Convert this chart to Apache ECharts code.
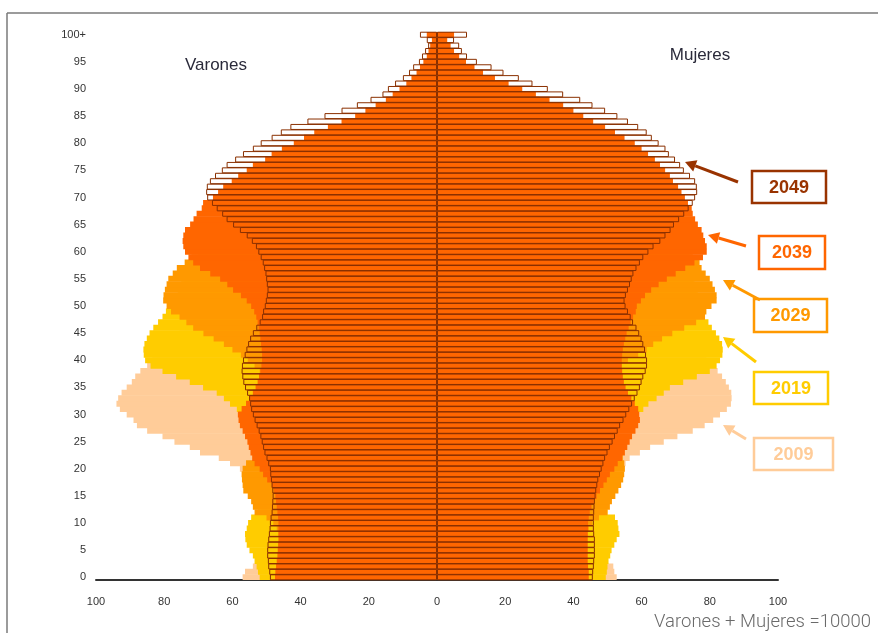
<!DOCTYPE html>
<html>
<head>
<meta charset="utf-8">
<script src="https://cdn.jsdelivr.net/npm/echarts@6/dist/echarts.min.js"></script>
<style>
html, body { margin: 0; padding: 0; background: #fff; }
#chart { width: 878px; height: 633px; }
</style>
</head>
<body>
<div id="chart"></div>
<script>
// edades 0..100+
var ages = [];
for (var a = 0; a <= 100; a++) ages.push(a === 100 ? '100+' : String(a));

var years = ['2009', '2019', '2029', '2039', '2049'];
var colors = ['#FFCC99', '#FFCC00', '#FF9900', '#FF6600', '#993300'];

// Varones (por cada 10000 habitantes)
var m2009 = [57,56.3,54,52.3,51,50.5,50,49,48,47.5,
  47.2,47,47,47.5,48,49,50.5,52.5,55,56.9,
  57.8,60.7,64,69.5,72.5,77,80.5,85,88,89,
  91,93,94,93.5,92.5,91,89.5,88.5,87,85,
  83.5,82,80,78.5,77,75.5,74,73,71.5,70,
  68.5,67.5,67,66.5,66,65,64,63,62,61,
  59.5,58,57,56,55,53.5,52,50.5,49,48,
  46.5,45,44,43,41.5,40,38,36,33.5,31,
  28.5,26,23,20.5,18,15.5,13,11,9,7,
  5.5,4.3,3.3,2.5,1.8,1.3,0.9,0.6,0.4,0.3,
  0.8];
var m2019 = [52,52.5,52.9,53.5,54,55,55.8,56.2,56.3,55.8,
  55.4,54.5,52.5,51.5,51,50.5,50,49.5,49.5,49.5,
  50,50,50.5,51,51.5,52,52.5,53,54,55.5,
  56.9,58.7,60.7,62.5,64.6,68.6,72.5,76.5,80.5,84,
  85.6,86,86.1,85.8,85.1,84.3,83.2,81.8,80.5,79.5,
  77,76.5,76,75.5,75,74,72.5,70.5,68.5,66.5,
  64,62,60,58.5,57,55,53.5,52,50.5,49,
  47.5,46,44.5,43,41.5,40,39,38,36,33.5,
  31,28,25,22,19.5,17,15,13,11,9,
  7.5,6,4.8,3.8,3,2.3,1.7,1.2,0.8,0.6,
  1];
var m2029 = [46.5,46.5,46.4,46.3,46.2,46.2,46.2,46.3,46.5,47,
  48,50,53.5,54,54.5,55.5,56.8,57,57.2,57.3,
  57,56,53.8,53,52.8,52.5,52.3,52,51.8,51.5,
  51.2,51,50.5,50.3,50.2,50.3,50.6,51,52,53.5,
  55.5,57.5,60,62.5,65.5,68.5,71.5,73.5,75.5,78,
  79.3,80.3,80.2,79.8,79.3,78.8,77.5,76.3,74,72,
  70,69,68,67,65.5,64,62.5,61,59,57.5,
  56,54.5,53,51.5,50,48.5,47,45,43,41,
  37,34,31,28,25,21.5,18.5,15.5,13,10.5,
  8.5,6.8,5.3,4.2,3.2,2.4,1.8,1.3,1,0.7,
  1.5];
var m2039 = [47.5,47.4,47.2,47,46.8,46.7,46.6,46.5,46.5,46.5,
  46.5,46.6,46.8,47,47.2,47.4,47.8,48.5,49.8,51,
  52,53.5,54.2,54.7,55.2,55.6,56.3,57,57.8,58.2,
  58.4,57.3,56,55,54,53.2,52.6,52.2,51.8,51.5,
  51.3,51.3,51.4,51.6,51.8,52,52.3,52.6,53,53.6,
  54.5,55.8,57.5,59.8,61.5,63.6,66.5,69.5,71.5,72.9,
  73.9,74.4,74.6,74.4,73.9,72.4,71.4,70.5,69,68.6,
  65.7,64.2,62.7,60.2,58.3,55.8,54,50.4,48.5,45.5,
  42,39,36,32,28,24,21,18,15,13,
  11,9,7.5,6,5,4,3,2.5,2,1.5,
  3];
var m2049 = [49,49.2,49.5,49.6,49.8,49.8,49.7,49.5,49.3,49.1,
  49,48.8,48.5,48.4,48.3,48.2,48.3,48.5,48.7,48.9,
  49,49.5,50,50.6,51,51.4,51.8,52.3,52.9,53.5,
  54,54.5,54.8,55.1,55.7,56.3,56.8,57.1,57.3,57.2,
  56.9,56.4,55.9,55.4,54.8,54,53,52,51.3,51,
  50.5,50.2,49.9,49.7,49.9,50.1,50.3,50.7,51.1,51.7,
  52.4,53.1,54.3,55.8,57.8,59.8,61.7,63,64.6,66,
  67.4,67.7,67.5,66.6,65.1,63.1,61.7,59.2,56.9,54,
  51.7,48.5,45.8,43,38,33,28,23.5,19.5,16,
  14.4,12.3,10,8.2,7,5.3,4.4,3.5,2.6,3,
  5];

// Mujeres
var f2009 = [52.7,52,51.7,49.5,48.5,47.5,47,46.3,45.5,45,
  44.8,44.7,44.8,45.2,46,47,48,49.5,51.5,53.5,
  54.8,55.3,56.5,59.5,62.5,66.5,70.5,75,78.5,81,
  83,85,86.2,86.4,86.3,85.6,84.7,83.6,82.3,80.5,
  79,78,76.5,75,74,72.5,71,70,69,67.5,
  66.5,65.5,65,64.5,64,63.5,63,62.5,62,61,
  60,59,58,57,56,55,54,53,52,51.5,
  51,50.5,50,49.5,49,48,46.5,45,43,41,
  38.5,36,33,30,27,24,21,18,15,12.5,
  10.5,8.5,6.8,5.3,4,3,2.2,1.6,1.1,0.8,
  2];
var f2019 = [49.5,49.8,50,50.3,50.8,51.2,52,52.7,53.5,53.2,
  53,52.2,50,49,48,47.5,47,46.8,46.8,47,
  47.5,48,48.5,49,49.5,50,51,52,53.5,55.5,
  57.5,60.5,62,64.4,66.5,68.3,72.2,76.2,80,82,
  83,83.7,83.8,83.6,82.8,81.8,80.6,79.6,78.6,78,
  77.5,77,76.5,76,75.5,75,74,73,72,71,
  69.5,68,67,65.5,64,62.5,61,59.5,58.5,57.5,
  56.5,56,55,54,53,52.5,51.5,50,48,46,
  44,41,38,35,32,29,26,23,20,17,
  14.5,12,9.5,7.5,6,4.6,3.5,2.6,2,1.5,
  3];
var f2029 = [44,44,43.8,43.8,43.8,43.8,43.9,44,44.2,44.5,
  45.5,47.5,50,50.7,51.3,52.3,53.2,54,54.6,54.9,
  55.1,54.9,54.5,54,53.5,53,52.5,52,51.5,51.2,
  51,50.8,50.8,51,51.5,52,52.5,53,53.5,54,
  56,59,61.5,63.4,66,69,72.5,76,78.6,79,
  80.5,82,82,81.5,80.8,80,78.8,77.6,77,75,
  74,73.5,73,72.5,72,71,70,69,68,67,
  66,65,64,63,62,60.5,59.5,58.5,57,55.5,
  54,52,49.5,46.5,43,40,37,34,30,26,
  22,18.5,15,12,9.5,7.5,5.5,4.2,3.2,2.4,
  4];
var f2039 = [44.5,44.5,44.3,44.2,44.2,44.2,44.2,44.2,44.2,44.3,
  44.3,44.5,44.8,45.3,46,46.8,47.8,48.8,49.8,50.7,
  52,53,54.3,55.1,55.8,56.5,57.2,58.2,59,59.5,
  59.3,59,58,57,56,55.3,54.8,54.5,54.3,54.2,
  54.2,54.3,54.5,54.8,55.2,55.6,56.2,56.8,57.5,58.3,
  58.6,59.8,61,62.8,65,67.4,70,72.8,75.5,78,
  79.1,79.1,78.6,78.1,77.6,76.5,75.7,75,74.7,73.6,
  72.7,71.7,70.7,69.2,68.3,66.9,65.4,63.9,61.9,60,
  58,55,52.2,49.3,45.8,42.9,40,37,33,29,
  25,21,17,13.5,11,8.5,6.5,5,4,3,
  5];
var f2049 = [45.7,45.8,46,46.1,46.3,46.3,46.3,46.3,46.1,46,
  46,46,46.1,46.2,46.3,46.5,46.7,47,47.3,47.8,
  48.3,48.8,49.3,50,50.7,51.5,52.2,53,53.7,54.7,
  55.5,56.4,57.2,58,58.8,59.5,60,60.5,61.2,61.6,
  61.6,61.3,61,60.5,60,59.3,58.5,57.5,56.8,56,
  55.3,55,55.4,56,56.6,57.1,57.6,58.5,59.5,60.5,
  62,63.5,65.5,67,68.5,69.5,71,72.5,73.8,75,
  75.7,76.3,76.2,75.7,74.2,72.4,71.3,69.8,68,67,
  65,63,61.5,59,56,52.9,49.3,45.6,42,37,
  32.5,28,24,19.5,16,11.7,8.8,7.3,6.5,5,
  8.8];

var men = [m2009, m2019, m2029, m2039, m2049];
var women = [f2009, f2019, f2029, f2039, f2049];

var dom = document.getElementById('chart');
var myChart = echarts.init(dom);

var series = [];
years.forEach(function (y, i) {
  var last = (i === years.length - 1);
  var style = last
    ? { color: 'rgba(255,255,255,0)', borderColor: '#8a3000', borderWidth: 1 }
    : { color: colors[i] };
  series.push({
    name: y + ' Varones', type: 'bar', z: 2 + i,
    barGap: '-100%', barWidth: 6,
    data: men[i].map(function (v) { return -v; }),
    itemStyle: style
  });
  var s = {
    name: y + ' Mujeres', type: 'bar', z: 2 + i,
    barGap: '-100%', barWidth: 6,
    data: women[i],
    itemStyle: style
  };
  if (last) {
    s.markLine = {
      silent: true, symbol: 'none',
      label: { show: false },
      lineStyle: { color: '#4a1800', width: 2, type: 'solid' },
      data: [{ xAxis: 0 }]
    };
  }
  series.push(s);
});

function arrow(x1, y1, x2, y2, color) {
  var dx = x2 - x1, dy = y2 - y1;
  var len = Math.sqrt(dx * dx + dy * dy);
  var ux = dx / len, uy = dy / len;
  var hl = 11, hw = 6;
  var bx = x2 - ux * hl, by = y2 - uy * hl;
  return [
    { type: 'line', shape: { x1: x1, y1: y1, x2: bx, y2: by }, style: { stroke: color, lineWidth: 3 } },
    { type: 'polygon', shape: { points: [[x2, y2], [bx - uy * hw, by + ux * hw], [bx + uy * hw, by - ux * hw]] }, style: { fill: color } }
  ];
}

function box(x, y, w, h, label, color) {
  return [
    { type: 'rect', shape: { x: x, y: y, width: w, height: h }, style: { fill: '#fff', stroke: color, lineWidth: 2.5 } },
    { type: 'text', x: x + w / 2, y: y + h / 2 + 1,
      style: { text: label, fill: color, font: 'bold 18px "Liberation Sans", Arial, sans-serif',
               align: 'center', verticalAlign: 'middle', textAlign: 'center', textVerticalAlign: 'middle' } }
  ];
}

var graphics = [
  { type: 'line', shape: { x1: 7, y1: 13, x2: 878, y2: 13 }, style: { stroke: '#7a7a7a', lineWidth: 1.5 } },
  { type: 'line', shape: { x1: 7, y1: 13, x2: 7, y2: 633 }, style: { stroke: '#7a7a7a', lineWidth: 1.5 } },
  { type: 'text', x: 216, y: 65, style: { text: 'Varones', fill: '#2a2a3a', font: '17px "Liberation Sans", Arial, sans-serif',
      align: 'center', verticalAlign: 'middle', textAlign: 'center', textVerticalAlign: 'middle' } },
  { type: 'text', x: 700, y: 55, style: { text: 'Mujeres', fill: '#2a2a3a', font: '17px "Liberation Sans", Arial, sans-serif',
      align: 'center', verticalAlign: 'middle', textAlign: 'center', textVerticalAlign: 'middle' } },
  { type: 'text', x: 871, y: 622, style: { text: 'Varones + Mujeres =10000', fill: '#6a6a6a', font: '300 18.5px Roboto, sans-serif',
      align: 'right', verticalAlign: 'middle', textAlign: 'right', textVerticalAlign: 'middle' } }
];
graphics = graphics
  .concat(box(752, 171, 74, 32, '2049', '#993300'))
  .concat(box(759, 236, 66, 33, '2039', '#FF6600'))
  .concat(box(754, 299, 73, 33, '2029', '#FF9900'))
  .concat(box(754, 372, 74, 32, '2019', '#FFCC00'))
  .concat(box(754, 438, 79, 32, '2009', '#FFCC99'))
  .concat(arrow(738, 182, 685, 162, '#993300'))
  .concat(arrow(746, 246, 708, 235, '#FF6600'))
  .concat(arrow(760, 300, 723, 280, '#FF9900'))
  .concat(arrow(756, 362, 723, 337, '#FFCC00'))
  .concat(arrow(746, 439, 723, 425, '#FFCC99'));

var option = {
  animation: false,
  backgroundColor: '#fff',
  grid: { left: 96, right: 100, top: 32, bottom: 53, containLabel: false },
  xAxis: {
    type: 'value', min: -100, max: 100, interval: 20,
    axisLine: { show: true, lineStyle: { color: '#333', width: 2 } },
    axisTick: { show: false },
    splitLine: { show: false },
    axisLabel: {
      margin: 16, fontSize: 11, color: '#333', fontFamily: 'Liberation Sans',
      formatter: function (v) { return Math.abs(v); }
    }
  },
  yAxis: {
    type: 'category', data: ages,
    axisLine: { show: false },
    axisTick: { show: false },
    splitLine: { show: false },
    axisLabel: { interval: 4, margin: 10, fontSize: 11, color: '#333', fontFamily: 'Liberation Sans' }
  },
  series: series,
  graphic: graphics
};
myChart.setOption(option);
window.addEventListener('resize', function () {
  myChart.resize();
});
</script>
</body>
</html>
